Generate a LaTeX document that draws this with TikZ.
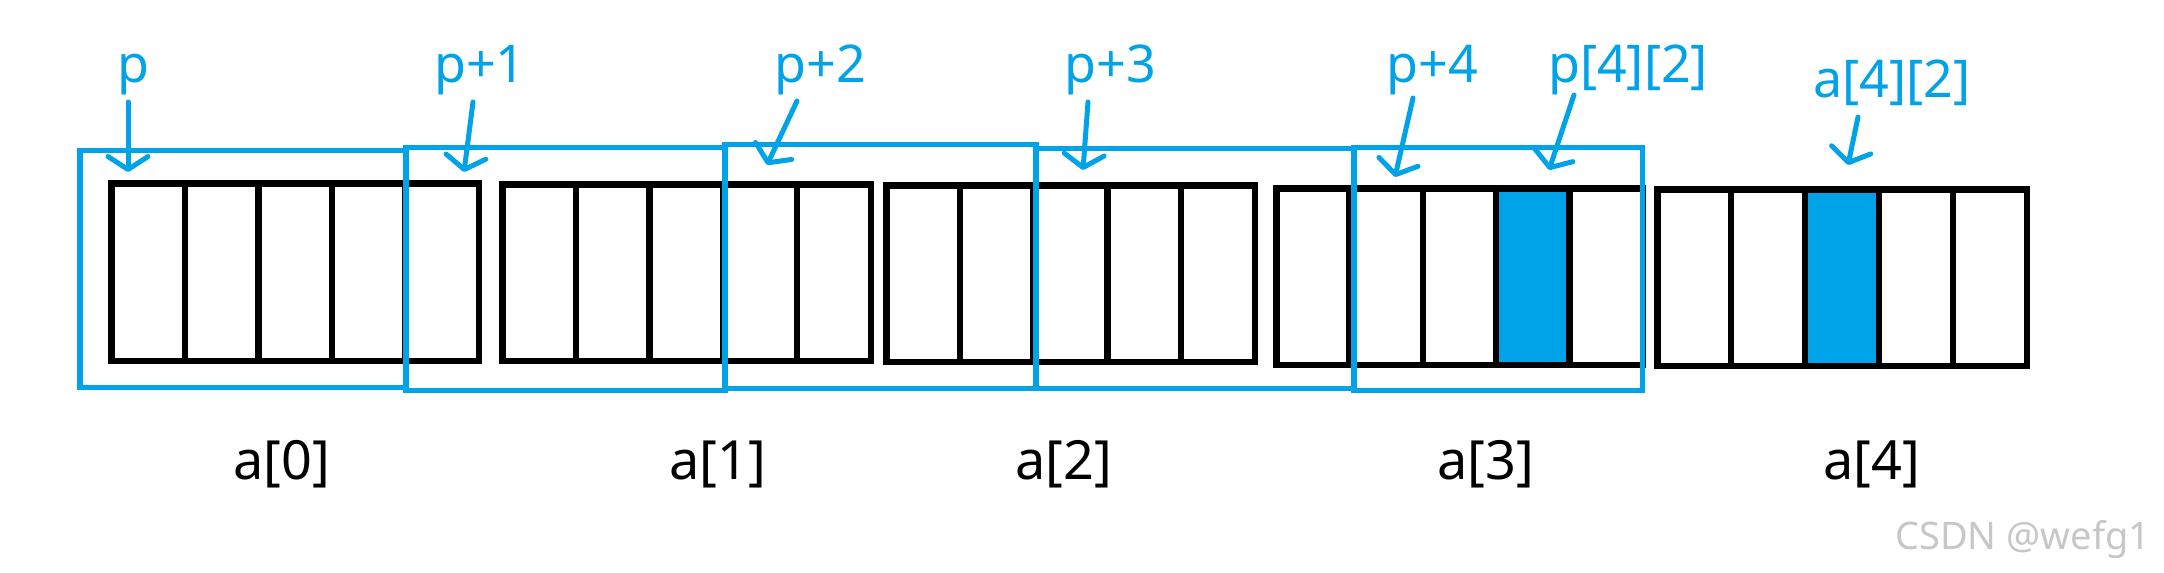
\documentclass[tikz,border=0pt]{standalone}
\usepackage{fontspec}
\setmainfont{Noto Sans}
\usetikzlibrary{arrows.meta,calc}
\definecolor{pblue}{RGB}{0,162,232}
\newcommand{\cellrow}[6]{% name, x0, y0, w, h, filled cell (0 = none)
  \node[grp, minimum width=#4pt, minimum height=#5pt] (#1) at (#2,#3) {};
  \ifnum#6>0
    \pgfmathsetmacro\fa{(#6-1)/5}\pgfmathsetmacro\fb{#6/5}
    \fill[hilite] ($(#1.north west)!\fa!(#1.north east)$) rectangle ($(#1.south west)!\fb!(#1.south east)$);
  \fi
  \draw[celldiv] (#1.north west) rectangle (#1.south east);
  \foreach \k in {1,2,3,4} {
    \draw[celldiv] ($(#1.north west)!\k/5!(#1.north east)$) -- ($(#1.south west)!\k/5!(#1.south east)$);
  }
}
\begin{document}
\begin{tikzpicture}[x=1pt,y=-1pt,
  grp/.style={rectangle, inner sep=0pt, outer sep=0pt, anchor=north west},
  celldiv/.style={draw=black, line width=6.5pt},
  hilite/.style={fill=pblue},
  region/.style={draw=pblue, line width=5.5pt},
  ptr/.style={draw=pblue, line width=5pt, line cap=round, line join=round,
    -{Straight Barb[length=13pt,width=40pt,line cap=round,line join=round]}},
  lbl/.style={text=pblue, font=\fontsize{52pt}{60pt}\selectfont, inner sep=0pt, anchor=base},
  rowname/.style={text=black, font=\fontsize{54pt}{60pt}\selectfont, inner sep=0pt, anchor=base},
  wm/.style={text=black!22, font=\fontsize{38pt}{44pt}\selectfont, inner sep=0pt, anchor=base west}
]
\useasboundingbox (0,0) rectangle (2164,573);

% rows of cells a[0]..a[4]
\cellrow{g0}{111.25}{183.25}{367.5}{177.5}{0}
\cellrow{g1}{502.25}{184.25}{368.5}{176.5}{0}
\cellrow{g2}{886.25}{185.25}{368.5}{176.5}{0}
\cellrow{g3}{1276.25}{188.25}{366.5}{176.5}{4}
\cellrow{g4}{1657.25}{189.25}{369.5}{176.5}{3}

% regions p .. p+4
\draw[region] (80,150.5) rectangle (406,387.5);
\draw[region] (406,147.5) rectangle (725,390.5);
\draw[region] (725,144.5) rectangle (1036,388.5);
\draw[region] (1036,148.5) rectangle (1354,388.5);
\draw[region] (1354,147.5) rectangle (1642.5,390.5);

% pointer labels
\node[lbl] (lp)  at (133,82) {p};
\node[lbl] (lp1) at (480,82) {p+1};
\node[lbl] (lp2) at (820.5,82) {p+2};
\node[lbl] (lp3) at (1110,82) {p+3};
\node[lbl] (lp4) at (1432,82) {p+4};
\node[lbl] (lp42) at (1628,82) {p[4][2]};
\node[lbl] (la42) at (1892,97) {a[4][2]};

% arrows
\coordinate (t0) at (128,102);  \coordinate (h0) at (128,172);
\coordinate (t1) at (473,102);  \coordinate (h1) at (464,172);
\coordinate (t2) at (797,101);  \coordinate (h2) at (767,165);
\coordinate (t3) at (1088,102); \coordinate (h3) at (1083,170);
\coordinate (t4) at (1413,98);  \coordinate (h4) at (1395,177);
\coordinate (t5) at (1574,95);  \coordinate (h5) at (1549,170);
\coordinate (t6) at (1858,117); \coordinate (h6) at (1848,165);
\foreach \i in {0,...,6} { \draw[ptr] (t\i) -- (h\i); }

% row names
\node[rowname] (n0) at (282,479) {a[0]};
\node[rowname] (n1) at (718,479) {a[1]};
\node[rowname] (n2) at (1064,479) {a[2]};
\node[rowname] (n3) at (1486,479) {a[3]};
\node[rowname] (n4) at (1872,479) {a[4]};

% watermark
\node[wm] (wm) at (1895,549) {CSDN @wefg1};
\end{tikzpicture}
\end{document}
